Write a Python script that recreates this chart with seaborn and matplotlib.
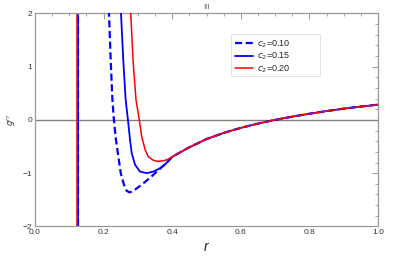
import numpy as np
import pandas as pd
import matplotlib
matplotlib.use("Agg")
import matplotlib.pyplot as plt
from matplotlib.patches import Rectangle
from matplotlib.ticker import MultipleLocator
import seaborn as sns

# =========================
# DATA
# =========================
r_c10 = [0.2137, 0.2157, 0.2205, 0.2255, 0.230, 0.236, 0.243, 0.250, 0.2595, 0.267,
         0.275, 0.283, 0.2915, 0.316, 0.340, 0.360, 0.380]
g_c10 = [2.3, 2.0, 1.15, 0.4, 0.0, -0.375, -0.69, -1.0, -1.22, -1.33,
         -1.36, -1.345, -1.31, -1.19, -1.06, -0.94, -0.83]

r_c15 = [0.2487, 0.2507, 0.2575, 0.2643, 0.271, 0.277, 0.282, 0.2915, 0.306, 0.3256,
         0.345, 0.364, 0.380]
g_c15 = [2.3, 2.0, 1.1, 0.375, 0.0, -0.375, -0.625, -0.84, -0.97, -1.0,
         -0.97, -0.91, -0.83]

r_c20 = [0.277, 0.279, 0.2865, 0.2945, 0.304, 0.311, 0.321, 0.330, 0.345, 0.3596,
         0.372, 0.384]
g_c20 = [2.3, 2.0, 1.05, 0.375, 0.0, -0.31, -0.56, -0.69, -0.76, -0.78,
         -0.77, -0.75]

# common tail, all three curves overlap here
r_tail = [0.40, 0.423, 0.45, 0.50, 0.55, 0.60, 0.65, 0.70, 0.75, 0.80, 0.85, 0.90, 0.95, 1.00]
g_tail = [-0.695, -0.61, -0.515, -0.36, -0.245, -0.15, -0.07, 0.0, 0.06, 0.115, 0.165, 0.21, 0.25, 0.285]

# vertical branches near r ~ 0.125
r_vert = {"0.10": 0.1265, "0.15": 0.125, "0.20": 0.123}

labels = ["0.10", "0.15", "0.20"]

# =========================
# BUILD TABLE
# =========================
rows = []
for lab, rr, gg in zip(labels, [r_c10, r_c15, r_c20], [g_c10, g_c15, g_c20]):
    for x, y in zip(rr + r_tail, gg + g_tail):
        rows.append({"c2": lab, "r": x, "g": y})
df = pd.DataFrame(rows)

# =========================
# PLOT
# =========================
sns.set_style("white")
plt.rcParams["font.family"] = ["Liberation Sans", "DejaVu Sans"]

fig = plt.figure(figsize=(4.15, 2.6), dpi=100)
ax = fig.add_axes([0.0843, 0.129, 0.8267, 0.82])

gray = "#999999"
ax.axhline(0, color="#808080", lw=1.0, zorder=1)

styles = {
    "0.10": dict(color="#0000ff", lw=1.6, ls=(0, (3.2, 1.6))),
    "0.15": dict(color="#0000ff", lw=1.3, ls="-"),
    "0.20": dict(color="#ff0000", lw=1.1, ls="-"),
}

for lab in labels:
    st = styles[lab]
    ax.axvline(r_vert[lab], color=st["color"], lw=st["lw"], ls=st["ls"], zorder=2)

for lab in labels:
    st = styles[lab]
    sns.lineplot(data=df[df["c2"] == lab], x="r", y="g", sort=False, ax=ax,
                 color=st["color"], lw=st["lw"], linestyle=st["ls"],
                 label=r"$c_2$=" + lab, zorder=3)

ax.set_xlim(0, 1)
ax.set_ylim(-2, 2)
ax.xaxis.set_major_locator(MultipleLocator(0.2))
ax.xaxis.set_minor_locator(MultipleLocator(0.05))
ax.yaxis.set_major_locator(MultipleLocator(1))
ax.yaxis.set_minor_locator(MultipleLocator(0.2))
ax.set_xticklabels([f"{v:.1f}" for v in ax.get_xticks()])
ax.tick_params(which="both", direction="in", top=True, right=True, color=gray,
               labelsize=6, labelcolor="#333333", pad=2)
ax.tick_params(which="major", length=4, width=0.7)
ax.tick_params(which="minor", length=2.2, width=0.6)
for sp in ax.spines.values():
    sp.set_color(gray)
    sp.set_linewidth(0.9)

ax.set_xlabel("r", fontsize=10, style="italic", color="#222222", labelpad=3)
ax.set_ylabel(r"$g^{rr}$", fontsize=6, color="#333333", labelpad=3)
ax.set_title("III", fontsize=5.5, color="#555555", pad=3)

# legend box (wider than the entries, as in the reference)
ax.add_patch(Rectangle((0.571, 0.7065), 0.26, 0.1965, transform=ax.transAxes,
                       facecolor="white", edgecolor="#dddddd", lw=0.6, zorder=4))
leg = ax.legend(loc="upper left", bbox_to_anchor=(0.571, 0.903), fontsize=6.5,
                frameon=False, handlelength=2.0, borderpad=0.5,
                labelspacing=0.1, handletextpad=0.35, borderaxespad=0)
leg.set_zorder(5)

fig.savefig("out.png", dpi=100)
